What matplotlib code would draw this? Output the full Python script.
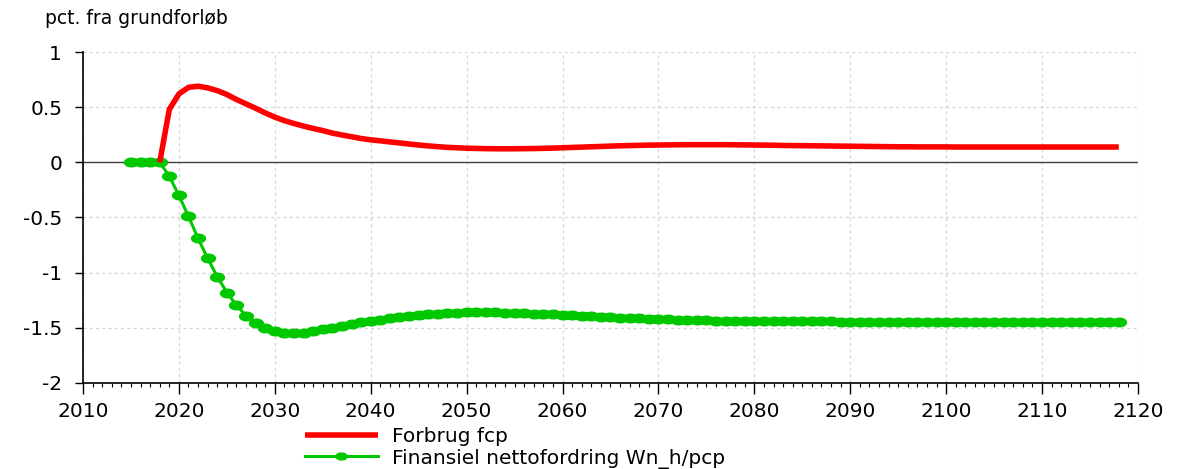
import numpy as np
import matplotlib
matplotlib.use('Agg')
import matplotlib.pyplot as plt
from matplotlib.path import Path

# data
years_fcp = list(range(2018, 2119))
fcp = [
    0.0, 0.48, 0.62, 0.68, 0.69, 0.675, 0.65, 0.615, 0.57, 0.53,          # 2018-2027
    0.49, 0.448, 0.41, 0.378, 0.352, 0.328, 0.307, 0.288, 0.265, 0.248,   # 2028-2037
    0.232, 0.216, 0.204, 0.195, 0.185, 0.176, 0.166, 0.157, 0.149, 0.142,  # 2038-2047
    0.136, 0.132, 0.128, 0.126, 0.124, 0.123, 0.123, 0.123, 0.124, 0.125,  # 2048-2057
    0.127, 0.129, 0.132, 0.135, 0.138, 0.141, 0.144, 0.147, 0.150, 0.152,  # 2058-2067
    0.154, 0.156, 0.157, 0.158, 0.159, 0.160, 0.160, 0.160, 0.160, 0.160,  # 2068-2077
    0.159, 0.158, 0.157, 0.156, 0.155, 0.153, 0.152, 0.151, 0.150, 0.149,  # 2078-2087
    0.148, 0.147, 0.146, 0.145, 0.144, 0.143, 0.142, 0.141, 0.141, 0.140,  # 2088-2097
    0.140, 0.140, 0.140, 0.139, 0.139, 0.139, 0.139, 0.139, 0.139, 0.139,  # 2098-2107
    0.139, 0.139, 0.139, 0.139, 0.139, 0.139, 0.139, 0.139, 0.139, 0.139,  # 2108-2117
    0.139,                                                                 # 2118
]

years_wn = list(range(2015, 2119))
wn = [
    0.0, 0.0, 0.0, 0.0, -0.125,                                            # 2015-2019
    -0.30, -0.49, -0.69, -0.87, -1.035, -1.18, -1.295, -1.39, -1.455, -1.50,      # 2020-2029
    -1.53, -1.545, -1.55, -1.545, -1.532, -1.515, -1.50, -1.482, -1.465, -1.45,   # 2030-2039
    -1.437, -1.425, -1.413, -1.403, -1.393, -1.385, -1.378, -1.372, -1.367, -1.363,  # 2040-2049
    -1.36, -1.359, -1.359, -1.36, -1.362, -1.365, -1.368, -1.371, -1.375, -1.379,   # 2050-2059
    -1.383, -1.387, -1.391, -1.395, -1.399, -1.403, -1.407, -1.411, -1.415, -1.418,  # 2060-2069
    -1.421, -1.424, -1.427, -1.429, -1.431, -1.433, -1.435, -1.437, -1.438, -1.439,  # 2070-2079
    -1.44, -1.44, -1.441, -1.441, -1.441, -1.442, -1.442, -1.442, -1.442, -1.443,    # 2080-2089
    -1.443, -1.443, -1.443, -1.443, -1.443, -1.443, -1.443, -1.444, -1.444, -1.444,  # 2090-2099
    -1.444, -1.444, -1.444, -1.444, -1.444, -1.444, -1.445, -1.445, -1.445, -1.445,  # 2100-2109
    -1.445, -1.445, -1.445, -1.445, -1.445, -1.445, -1.445, -1.445, -1.445,          # 2110-2118
]

labels = ['Forbrug fcp', 'Finansiel nettofordring Wn_h/pcp']
yticks = [1, 0.5, 0, -0.5, -1, -1.5, -2]
ytick_labels = ['1', '0.5', '0', '-0.5', '-1', '-1.5', '-2']
xticks = list(range(2010, 2121, 10))

plt.rcParams['font.family'] = ['DejaVu Sans']

# flat ellipse marker (the original is horizontally stretched)
t = np.linspace(0, 2 * np.pi, 40)
ellipse = Path(np.column_stack([np.cos(t), 0.62 * np.sin(t)]), closed=True)

fig = plt.figure(figsize=(11.84, 4.69), dpi=100)
ax = fig.add_axes([0.0701, 0.1834, 0.8910, 0.7057])

ax.plot(years_fcp, fcp, color='#ff0000', lw=4.0, solid_capstyle='butt', label=labels[0], zorder=4)
ax.plot(years_wn, wn, color='#00c800', lw=2.2, marker=ellipse, ms=10, label=labels[1], zorder=3)
ax.axhline(0, color='#404040', lw=1.0, zorder=2)

ax.set_xlim(2010, 2120)
ax.set_ylim(-2, 1)
ax.set_xticks(xticks)
ax.set_xticks(range(2010, 2121), minor=True)
ax.set_yticks(yticks)
ax.set_yticklabels(ytick_labels)

ax.grid(True, which='major', color='#d6d6d6', lw=0.9, ls=(0, (2.5, 2.5)))
ax.set_axisbelow(True)
for s in ['top', 'right']:
    ax.spines[s].set_visible(False)
for s in ['left', 'bottom']:
    ax.spines[s].set_linewidth(1.2)

ax.tick_params(axis='x', which='major', direction='out', length=8, width=1, labelsize=14.5, pad=6)
ax.tick_params(axis='x', which='minor', direction='out', length=3, width=0.8)
ax.tick_params(axis='y', which='major', direction='out', length=6, width=1, labelsize=14.5, pad=9)

fig.text(45 / 1184, 1 - 18 / 469, 'pct. fra grundforløb', fontsize=13.5, va='center', ha='left')

fig.legend(loc='center left', bbox_to_anchor=(305 / 1184, 1 - 448 / 469), frameon=False,
           fontsize=14.5, handlelength=3.6, handletextpad=0.7, borderpad=0, borderaxespad=0,
           labelspacing=0.1, markerscale=0.8)

fig.savefig('out.png', dpi=100)
plt.close(fig)
